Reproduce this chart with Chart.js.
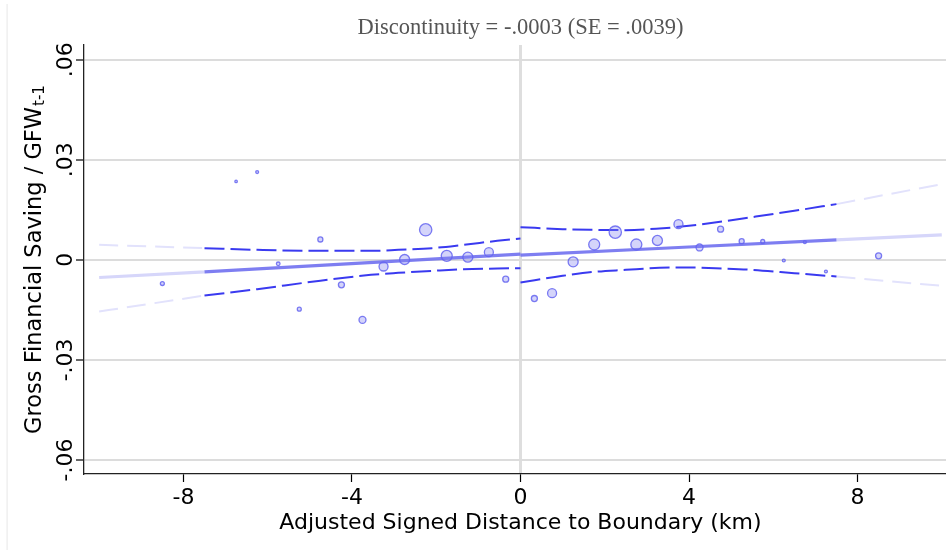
<!DOCTYPE html>
<html>
<head>
<meta charset="utf-8">
<script src="https://cdn.jsdelivr.net/npm/chart.js@4.4.1/dist/chart.umd.min.js"></script>
<style>
  html, body { margin: 0; padding: 0; background: #fff; }
  canvas { display: block; }
</style>
</head>
<body>
<canvas id="rd" width="946" height="550"></canvas>
<script>
// binned means (distance in km, saving ratio, obs per bin)
const binX = [-8.5, -6.75, -6.25, -5.75, -5.25, -4.75, -4.25, -3.75, -3.25, -2.75, -2.25, -1.75, -1.25, -0.75, -0.35,
              0.33, 0.75, 1.25, 1.75, 2.25, 2.75, 3.25, 3.75, 4.25, 4.75, 5.25, 5.75, 6.25, 6.75, 7.25, 8.5];
const binY = [-.0071, .0235, .0263, -.0012, -.0148, .0061, -.0075, -.0180, -.0020, .0001, .0090, .0012, .0008, .0023, -.0058,
              -.0116, -.0100, -.0006, .0046, .0083, .0046, .0058, .0107, .0037, .0092, .0056, .0055, -.0002, .0053, -.0035, .0012];
const binObs = [13, 5, 7, 11, 13, 21, 30, 40, 67, 83, 125, 100, 83, 67, 30,
                30, 67, 83, 100, 125, 100, 83, 67, 40, 30, 21, 13, 7, 7, 7, 30];

// linear fit each side of the boundary
const fitLeftX = [-10, -7.5, 0];
const fitLeftY = [-.0053, -.0036, .0017];
const fitRightX = [0, 7.5, 10];
const fitRightY = [.0014, .0060, .0075];

// confidence band, left side
const ciLeftX = [-10, -7.5, -6.25, -4.9, -3.55, -2.9, -2.1, -1.35, -0.55, 0];
const ciLeftHi = [.0045, .0035, .0030, .0027, .0027, .0030, .0035, .0045, .0057, .0064];
const ciLeftLo = [-.0155, -.0107, -.0088, -.0065, -.0045, -.0039, -.0033, -.0028, -.0026, -.0025];

// confidence band, right side
const ciRightX = [0, 1, 1.75, 2.5, 3.3, 4, 4.8, 5.5, 6.5, 7.5, 10];
const ciRightHi = [.0098, .0092, .0090, .0089, .0094, .0102, .0115, .0128, .0147, .0167, .0227];
const ciRightLo = [-.0068, -.0048, -.0036, -.0030, -.0024, -.0023, -.0026, -.0030, -.0040, -.0050, -.0078];

const xTicks = [-8, -4, 0, 4, 8];
const yTicks = [-.06, -.03, 0, .03, .06];
const yTickLabels = ['-.06', '-.03', '0', '.03', '.06'];

const titleText = 'Discontinuity = -.0003 (SE = .0039)';
const xTitle = 'Adjusted Signed Distance to Boundary (km)';
const yTitleMain = 'Gross Financial Saving / GFW';
const yTitleSub = 't-1';

const SUPPORT = 7.5; // fitted range, beyond this curves are faded

function pts(xs, ys, keep) {
    let out = [];
    xs.forEach((x, i) => {
        if (keep(x)) out.push({x: x, y: ys[i]});
    });
    return out;
}
const inside = x => Math.abs(x) <= SUPPORT;
const outside = x => Math.abs(x) >= SUPPORT;

function curve(data, color, width, dash, order) {
    return {
        type: 'line',
        data: data,
        borderColor: color,
        borderWidth: width,
        borderDash: dash,
        pointRadius: 0,
        fill: false,
        cubicInterpolationMode: 'monotone',
        order: order
    };
}

const ciColor = '#3a3af0';
const ciFaded = '#e2e2fc';
const fitColor = 'rgba(112,112,240,0.9)';
const fitFaded = '#d6d6fa';
const dash = [20, 6];
const dashFaded = [19, 9];

const datasets = [
    {
        type: 'scatter',
        data: binX.map((x, i) => ({x: x, y: binY[i]})),
        backgroundColor: 'rgba(130,130,240,0.34)',
        borderColor: 'rgba(100,100,240,0.85)',
        borderWidth: 1.3,
        pointRadius: ctx => 0.55 * Math.sqrt(binObs[ctx.dataIndex]),
        order: 0
    },
    // faded extrapolations
    curve(pts(fitLeftX, fitLeftY, outside), fitFaded, 3.2, [], 3),
    curve(pts(fitRightX, fitRightY, outside), fitFaded, 3.2, [], 3),
    curve(pts(ciLeftX, ciLeftHi, outside), ciFaded, 2, dashFaded, 3),
    curve(pts(ciLeftX, ciLeftLo, outside), ciFaded, 2, dashFaded, 3),
    curve(pts(ciRightX, ciRightHi, outside), ciFaded, 2, dashFaded, 3),
    curve(pts(ciRightX, ciRightLo, outside), ciFaded, 2, dashFaded, 3),
    // fitted range
    curve(pts(fitLeftX, fitLeftY, inside), fitColor, 3.2, [], 1),
    curve(pts(fitRightX, fitRightY, inside), fitColor, 3.2, [], 1),
    curve(pts(ciLeftX, ciLeftHi, inside), ciColor, 2, dash, 2),
    curve(pts(ciLeftX, ciLeftLo, inside), ciColor, 2, dash, 2),
    curve(pts(ciRightX, ciRightHi, inside), ciColor, 2, dash, 2),
    curve(pts(ciRightX, ciRightLo, inside), ciColor, 2, dash, 2)
];

const overlay = {
    id: 'overlay',
    beforeDraw(chart) {
        const c = chart.ctx;
        c.save();
        c.fillStyle = '#fff';
        c.fillRect(0, 0, chart.width, chart.height);
        c.fillStyle = '#ececec';
        c.fillRect(6.5, 4, 1.2, chart.height);
        c.restore();
    },
    afterDraw(chart) {
        const c = chart.ctx;
        const area = chart.chartArea;
        const xs = chart.scales.x;
        const ys = chart.scales.y;
        c.save();

        // graph title, centred on the boundary like the plot region
        c.font = '22.5px "Liberation Serif"';
        c.fillStyle = '#555';
        c.textAlign = 'center';
        c.textBaseline = 'alphabetic';
        c.fillText(titleText, xs.getPixelForValue(0), 34);

        // rotated y tick labels
        c.fillStyle = '#000';
        c.font = '22px "DejaVu Sans"';
        yTicks.forEach((v, i) => {
            c.save();
            c.translate(71.5, ys.getPixelForValue(v));
            c.rotate(-Math.PI / 2);
            c.fillText(yTickLabels[i], 0, 0);
            c.restore();
        });

        // y title with subscript
        const mainFont = '22.5px "DejaVu Sans"';
        const subFont = '15px "DejaVu Sans"';
        c.font = mainFont;
        const w1 = c.measureText(yTitleMain).width;
        c.font = subFont;
        const w2 = c.measureText(yTitleSub).width;
        const total = w1 + 1 + w2;
        c.save();
        c.translate(41, (area.top + area.bottom) / 2);
        c.rotate(-Math.PI / 2);
        c.textAlign = 'left';
        c.font = mainFont;
        c.fillText(yTitleMain, -total / 2, 0);
        c.font = subFont;
        c.fillText(yTitleSub, -total / 2 + w1 + 1, 3);
        c.restore();

        // x title, centred on the boundary
        c.font = '22px "DejaVu Sans"';
        c.textAlign = 'center';
        c.fillText(xTitle, xs.getPixelForValue(0), 529);
        c.restore();
    }
};

new Chart(document.getElementById('rd'), {
    type: 'scatter',
    data: { datasets: datasets },
    options: {
        responsive: false,
        animation: false,
        events: [],
        layout: { autoPadding: false, padding: { top: 45, left: 0, right: 0, bottom: 0 } },
        plugins: {
            legend: { display: false },
            tooltip: { enabled: false },
            title: { display: false }
        },
        scales: {
            x: {
                type: 'linear',
                min: -10.36,
                max: 10.10,
                afterBuildTicks: s => { s.ticks = xTicks.map(v => ({value: v})); },
                afterFit: s => { s.height = 76; },
                border: { color: '#222', width: 1.3 },
                grid: {
                    color: ctx => (ctx.tick && ctx.tick.value === 0) ? '#dedede' : 'rgba(0,0,0,0)',
                    lineWidth: ctx => (ctx.tick && ctx.tick.value === 0) ? 3 : 1,
                    tickColor: '#000',
                    tickLength: 8,
                    tickWidth: 1.2
                },
                ticks: {
                    color: '#000',
                    font: { family: 'DejaVu Sans', size: 22 },
                    padding: 3,
                    maxRotation: 0,
                    autoSkip: false,
                    callback: v => String(v)
                },
                title: { display: false }
            },
            y: {
                type: 'linear',
                min: -.0642,
                max: .0644,
                afterBuildTicks: s => { s.ticks = yTicks.map(v => ({value: v})); },
                afterFit: s => { s.width = 84; },
                border: { color: '#222', width: 1.3 },
                grid: {
                    color: '#dcdcdc',
                    lineWidth: 2,
                    tickColor: '#000',
                    tickLength: 8,
                    tickWidth: 1.2
                },
                ticks: { display: false }
            }
        }
    },
    plugins: [overlay]
});
</script>
</body>
</html>
